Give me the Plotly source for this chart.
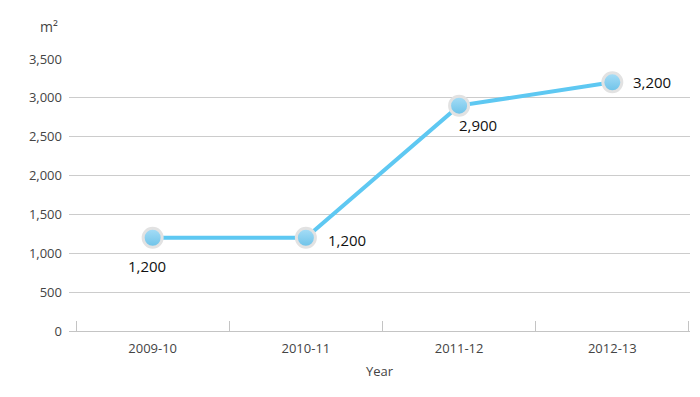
import plotly.graph_objects as go

years = ["2009-10", "2010-11", "2011-12", "2012-13"]
area_m2 = [1200, 1200, 2900, 3200]
label_text = ["1,200", "1,200", "2,900", "3,200"]
y_ticks = [0, 500, 1000, 1500, 2000, 2500, 3000, 3500]

# label placement offsets (pixels) relative to each point
label_anchor = ["center", "left", "left", "left"]
label_dx = [-6, 20, -2, 19]
label_dy = [-28, -2, -19, 0]

FONT = "Open Sans, Lato, sans-serif"

fig = go.Figure()
fig.add_trace(go.Scatter(
    x=years, y=area_m2,
    mode="lines+markers",
    line=dict(color="#5ec8f2", width=4),
    marker=dict(size=19, color="#a8def7",
                gradient=dict(type="vertical", color="#6cc2e8"),
                line=dict(color="#e2e2e2", width=3)),
    cliponaxis=False, hoverinfo="skip",
))

annotations = [
    dict(x=xv, y=yv, xref="x", yref="y", text=t, showarrow=False,
         xanchor=a, yanchor="middle", xshift=dx, yshift=dy,
         font=dict(family=FONT, size=15, color="#111"))
    for xv, yv, t, a, dx, dy in zip(years, area_m2, label_text, label_anchor, label_dx, label_dy)
]
annotations.append(dict(text="m²", xref="paper", yref="paper", x=-0.014, y=1.12,
                        xanchor="right", yanchor="middle", showarrow=False,
                        font=dict(size=14, color="#444")))

fig.update_layout(
    width=700, height=397,
    margin=dict(l=69, r=10, t=59, b=66),
    paper_bgcolor="white", plot_bgcolor="white",
    showlegend=False,
    font=dict(family=FONT, size=13, color="#444"),
    xaxis=dict(
        type="category", range=[-0.546, 3.507],
        tickson="boundaries", ticks="inside", ticklen=10, tickcolor="#c4c4c4",
        showgrid=False, showline=True, linecolor="#c4c4c4", linewidth=1,
        tickfont=dict(size=13, color="#444"), ticklabelstandoff=5,
        title=dict(text="Year", font=dict(size=13, color="#444"), standoff=11),
    ),
    yaxis=dict(
        range=[0, 3500], tickvals=y_ticks, tickformat=",",
        showgrid=True, gridcolor="#cccccc", gridwidth=1,
        zeroline=False, showline=False, ticks="",
        tickfont=dict(size=13, color="#444"), ticklabelstandoff=6,
    ),
    annotations=annotations,
)

fig.write_html("out.html", config={"displayModeBar": False},
               post_script=["document.body.style.margin='0';"])
